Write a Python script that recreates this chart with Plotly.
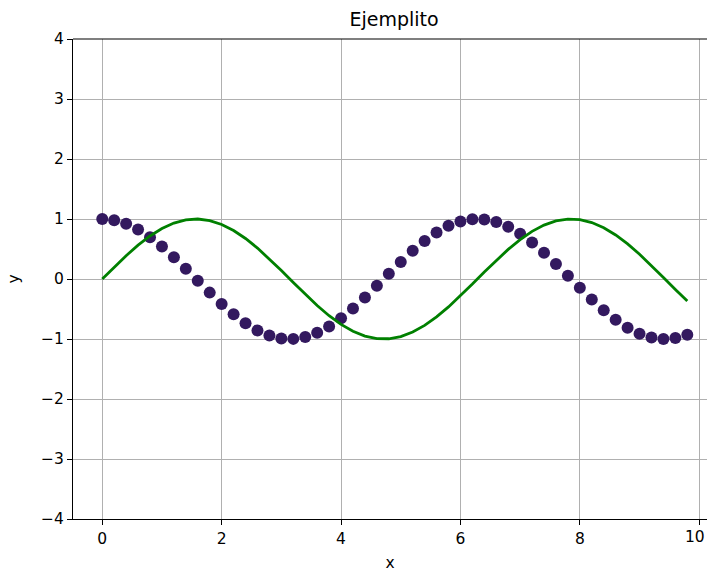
import plotly.graph_objects as go

x_vals = [0.0, 0.2, 0.4, 0.6, 0.8, 1.0, 1.2, 1.4, 1.6, 1.8,
          2.0, 2.2, 2.4, 2.6, 2.8, 3.0, 3.2, 3.4, 3.6, 3.8,
          4.0, 4.2, 4.4, 4.6, 4.8, 5.0, 5.2, 5.4, 5.6, 5.8,
          6.0, 6.2, 6.4, 6.6, 6.8, 7.0, 7.2, 7.4, 7.6, 7.8,
          8.0, 8.2, 8.4, 8.6, 8.8, 9.0, 9.2, 9.4, 9.6, 9.8]

dots_y = [1.000, 0.980, 0.921, 0.825, 0.697, 0.540, 0.362, 0.170, -0.029, -0.227,
          -0.416, -0.589, -0.737, -0.857, -0.942, -0.990, -0.998, -0.967, -0.897, -0.791,
          -0.654, -0.490, -0.307, -0.112, 0.087, 0.284, 0.469, 0.635, 0.776, 0.886,
          0.960, 0.997, 0.993, 0.950, 0.869, 0.754, 0.608, 0.439, 0.251, 0.054,
          -0.146, -0.340, -0.520, -0.679, -0.811, -0.911, -0.975, -1.000, -0.985, -0.930]

line_y = [0.000, 0.199, 0.389, 0.565, 0.717, 0.841, 0.932, 0.985, 1.000, 0.974,
          0.909, 0.808, 0.675, 0.516, 0.335, 0.141, -0.058, -0.256, -0.443, -0.612,
          -0.757, -0.872, -0.952, -0.994, -0.996, -0.959, -0.883, -0.773, -0.631, -0.465,
          -0.279, -0.083, 0.117, 0.312, 0.494, 0.657, 0.794, 0.899, 0.968, 0.999,
          0.989, 0.941, 0.855, 0.734, 0.585, 0.412, 0.223, 0.025, -0.174, -0.366]

x_ticks = [0, 2, 4, 6, 8, 10]
x_tick_text = ["0", "2", "4", "6", "8", "10"]
y_ticks = [-4, -3, -2, -1, 0, 1, 2, 3, 4]
y_tick_text = ["\u22124", "\u22123", "\u22122", "\u22121", "0", "1", "2", "3", "4"]

FONT = "DejaVu Sans"
TICK_SIZE = 15.5

fig = go.Figure()
fig.add_trace(go.Scatter(
    x=x_vals, y=dots_y, mode="markers",
    marker=dict(color="#33195f", size=12, line=dict(width=0)),
    showlegend=False))
fig.add_trace(go.Scatter(
    x=x_vals, y=line_y, mode="lines",
    line=dict(color="#008000", width=2.8),
    showlegend=False))

axis_common = dict(
    showgrid=True, gridcolor="#b0b0b0", gridwidth=1.1,
    zeroline=False, showline=True, linecolor="black", linewidth=1.1,
    ticks="outside", ticklen=5, tickwidth=1.1, tickcolor="black",
    tickfont=dict(family=FONT, size=TICK_SIZE, color="black"),
    title_font=dict(family=FONT, size=TICK_SIZE, color="black"),
)

# The last x tick label sits at the page edge; plotly drops labels that
# overflow, so draw the final one as an annotation kept inside the page.
last_label = dict(x=1, xref="paper", xanchor="right", y=0, yref="paper",
                  yanchor="top", yshift=-7, text=x_tick_text[-1], showarrow=False,
                  font=dict(family=FONT, size=TICK_SIZE, color="black"))

fig.update_layout(
    width=707, height=573,
    margin=dict(l=73, r=0, t=39, b=54),
    plot_bgcolor="white", paper_bgcolor="white",
    title=dict(text="Ejemplito", x=394 / 707, xanchor="center",
               y=1 - 19 / 573, yanchor="middle",
               font=dict(family=FONT, size=19, color="black")),
    xaxis=dict(range=[-0.49, 10.13], tickvals=x_ticks, ticktext=x_tick_text,
               title=dict(text="x", standoff=10), **axis_common),
    yaxis=dict(range=[-4, 4], tickvals=y_ticks, ticktext=y_tick_text,
               title=dict(text="y", standoff=17), **axis_common),
    shapes=[dict(type="line", xref="paper", yref="paper", x0=0, x1=1, y0=1, y1=1,
                 line=dict(color="black", width=1.1))],
    annotations=[last_label],
)

fig.write_html("out.html")
